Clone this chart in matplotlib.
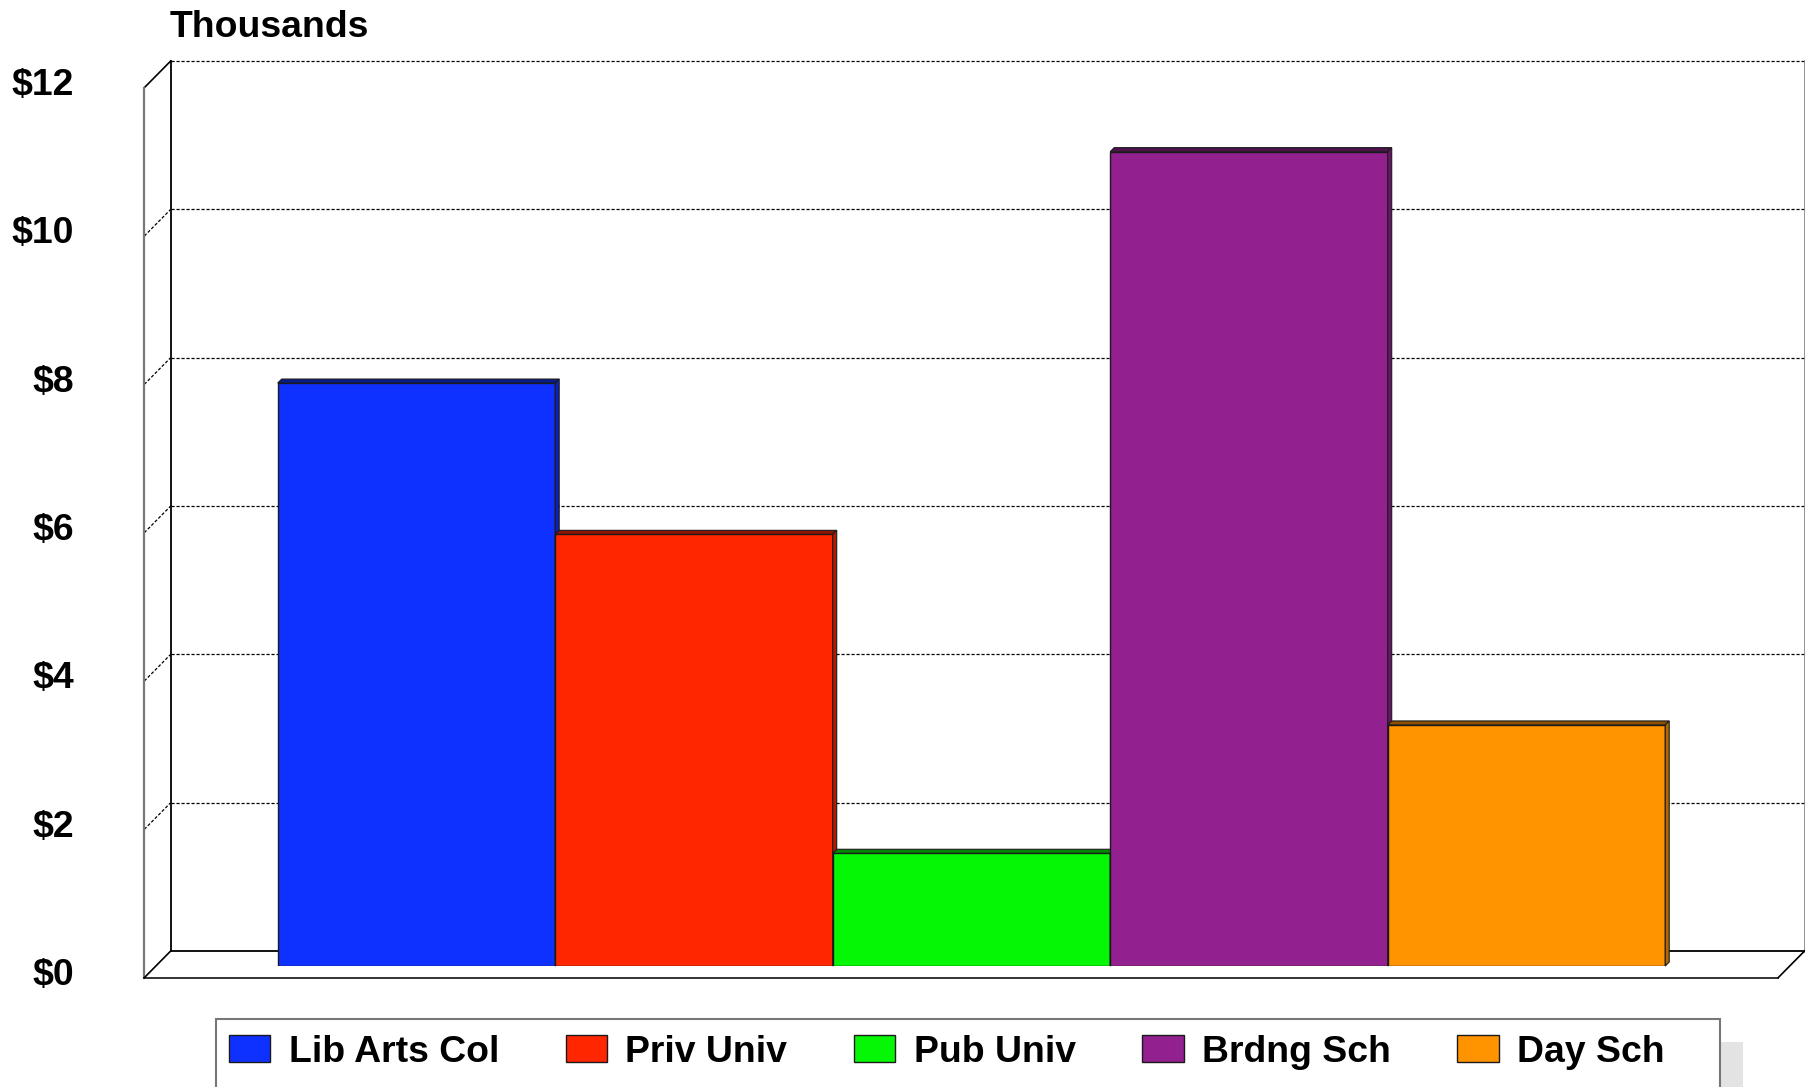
import matplotlib
matplotlib.use("Agg")
import matplotlib.pyplot as plt
from matplotlib.patches import Polygon, Rectangle
import numpy as np

plt.rcParams["font.family"] = ["Liberation Sans", "DejaVu Sans"]
plt.rcParams["font.weight"] = "bold"

# average cost, thousands of dollars
categories = ["Lib Arts Col", "Priv Univ", "Pub Univ", "Brdng Sch", "Day Sch"]
values = [7.86, 5.82, 1.52, 10.98, 3.25]
colors = ["#0F31FF", "#FF2600", "#06F706", "#92208F", "#FF9300"]
yticks = [0, 2, 4, 6, 8, 10, 12]
ytick_labels = ["$0", "$2", "$4", "$6", "$8", "$10", "$12"]

W, H = 1805, 1087
FS = 26.9

fig = plt.figure(figsize=(W / 100, H / 100), dpi=100)
ax = fig.add_axes([155.85 / W, 121 / H, 1633.85 / W, 890 / H])
x0, x1 = -0.9391, 4.9486
ytop = yticks[-1]
ax.set_xlim(x0, x1)
ax.set_ylim(0, ytop)
ax.axis("off")

# pixel -> data helpers for the fake 3d depth
px_x = 1633.85 / (x1 - x0)
px_y = 890 / ytop
bdx, bdy = 14.85 / px_x, 15.0 / px_y      # back wall offset
fdx, fdy = -11.55 / px_x, -11.7 / px_y    # front edge offset
ddx, ddy = 4.0 / px_x, 4.0 / px_y         # bar depth

dash = (0, (2.5, 1.5))
kw = dict(clip_on=False)

# back wall
ax.add_patch(Polygon([(x0 + bdx, bdy), (x1 + bdx, bdy), (x1 + bdx, ytop + bdy), (x0 + bdx, ytop + bdy)],
                     closed=True, fc="white", ec="none", zorder=0, **kw))
for y in yticks[1:]:
    ax.plot([x0 + bdx, x1 + bdx], [y + bdy, y + bdy], color="black", lw=0.9, ls=dash, zorder=1, **kw)
    if y < ytop:
        ax.plot([x0 + fdx, x0 + bdx], [y + fdy, y + bdy], color="black", lw=0.9, ls=dash, zorder=1, **kw)
ax.plot([x0 + fdx, x0 + bdx], [ytop + fdy, ytop + bdy], color="black", lw=1.2, zorder=1, **kw)
ax.plot([x0 + bdx, x0 + bdx], [bdy, ytop + bdy], color="black", lw=1.3, zorder=1, **kw)
ax.plot([x1 + bdx, x1 + bdx], [bdy, ytop + bdy], color="#888888", lw=2.0, zorder=1, **kw)
ax.plot([x0 + fdx, x0 + fdx], [fdy, ytop + fdy], color="#777777", lw=1.6, zorder=1, **kw)
# floor
ax.plot([x0 + bdx, x1 + bdx], [bdy, bdy], color="black", lw=1.3, zorder=1, **kw)
ax.plot([x0 + fdx, x1 + fdx], [fdy, fdy], color="#333333", lw=1.4, zorder=1, **kw)
ax.plot([x0 + fdx, x0 + bdx], [fdy, bdy], color="black", lw=1.2, zorder=1, **kw)
ax.plot([x1 + fdx, x1 + bdx], [fdy, bdy], color="black", lw=1.2, zorder=1, **kw)

# bars
xs = np.arange(len(categories))
bars = ax.bar(xs, values, width=1.0, color=colors, edgecolor="#1a1a1a", linewidth=1.0)
for i, (b, h, c) in enumerate(zip(bars, values, colors)):
    z = 3 + i * 0.1
    b.set_zorder(z)
    l, r = b.get_x(), b.get_x() + b.get_width()
    rgb = np.array(matplotlib.colors.to_rgb(c))
    ax.add_patch(Polygon([(l, h), (r, h), (r + ddx, h + ddy), (l + ddx, h + ddy)], closed=True,
                         fc=rgb * 0.55, ec="#1a1a1a", lw=0.8, zorder=z, **kw))
    ax.add_patch(Polygon([(r, 0), (r + ddx, ddy), (r + ddx, h + ddy), (r, h)], closed=True,
                         fc=rgb * 0.7, ec="#1a1a1a", lw=0.8, zorder=z, **kw))

# y labels
for y, lab in zip(yticks, ytick_labels):
    ax.text(x0 + (74 - 155.85) / px_x, y - 9.5 / px_y, lab, ha="right", va="center",
            fontsize=FS, fontweight="bold", **kw)

fig.text(170 / W, 1 - 27.5 / H, "Thousands", fontsize=FS, fontweight="bold", ha="left", va="center")

# legend box with flat shadow
fig.add_artist(Rectangle((239 / W, -0.05), (1743 - 239) / W, 0.05 + (1087 - 1042) / H,
                         transform=fig.transFigure, fc="#E3E3E3", ec="none", zorder=0))
fig.add_artist(Rectangle((216 / W, -0.05), (1720 - 216) / W, 0.05 + (1087 - 1019) / H,
                         transform=fig.transFigure, fc="white", ec="#777777", lw=1.5, zorder=1))
leg = fig.legend(handles=list(bars), labels=categories, ncol=5, loc="center left",
                 bbox_to_anchor=(229 / W, 1 - 1052 / H), frameon=False, borderpad=0, borderaxespad=0,
                 handlelength=1.11, handleheight=0.76, handletextpad=0.49, columnspacing=1.78,
                 fontsize=FS)
leg.set_zorder(2)

fig.savefig("out.png", dpi=100)
plt.close(fig)
